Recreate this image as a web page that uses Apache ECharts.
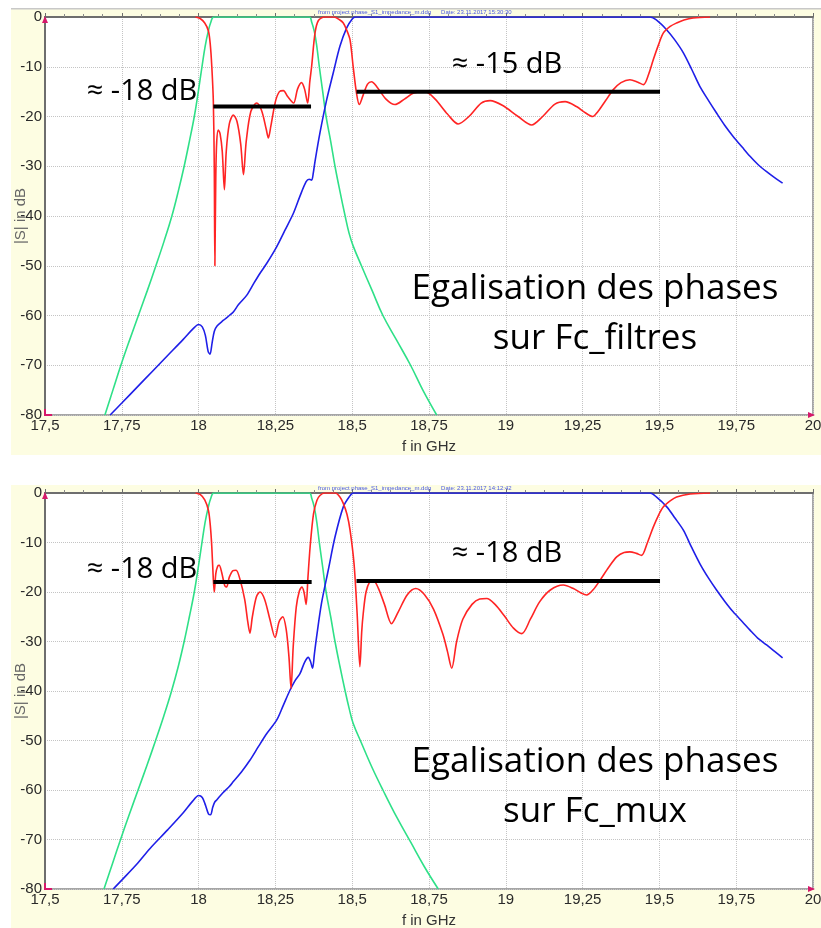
<!DOCTYPE html>
<html><head><meta charset="utf-8">
<script src="https://cdn.jsdelivr.net/npm/echarts@6/dist/echarts.min.js"></script>
<style>html,body{margin:0;padding:0;background:#fff}#c{width:821px;height:928px}</style>
</head><body><div id="c"></div>
<script>
// ---------- data ----------
const xTicks = [17.5, 17.75, 18, 18.25, 18.5, 18.75, 19, 19.25, 19.5, 19.75, 20];
const yTicks = [0, -10, -20, -30, -40, -50, -60, -70, -80];

const greenTop = [[17.695,-80],[17.721,-75],[17.747,-70],[17.775,-65],[17.804,-60],[17.833,-55],[17.861,-50],[17.888,-45],[17.913,-40],[17.934,-35],[17.953,-30],[17.97,-25],[17.986,-20],[17.999,-15],[18.011,-10],[18.021,-6],[18.031,-3],[18.04,-1],[18.05,0],[18.36,0],[18.368,-1],[18.377,-3],[18.385,-6],[18.393,-10],[18.404,-15],[18.415,-20],[18.43,-25],[18.444,-30],[18.46,-35],[18.477,-40],[18.49,-43.5],[18.503,-46],[18.53,-50],[18.565,-55],[18.6,-60],[18.645,-65],[18.69,-70],[18.73,-75],[18.775,-80]];
const blueTop = [[17.712,-80],[17.75,-77.6],[17.8,-74.4],[17.85,-71.2],[17.9,-68],[17.95,-64.8],[17.98,-62.8],[18.0,-61.8],[18.012,-62.3],[18.022,-64],[18.031,-67.2],[18.037,-67.8],[18.044,-65.5],[18.051,-63.2],[18.06,-62.1],[18.08,-61],[18.1,-60],[18.113,-59.3],[18.13,-57.8],[18.157,-55.9],[18.18,-53.5],[18.2,-51.5],[18.222,-49.5],[18.254,-46.2],[18.28,-43],[18.309,-39.4],[18.33,-36],[18.35,-33.1],[18.36,-32.6],[18.368,-32.8],[18.373,-31.5],[18.379,-29],[18.395,-23.3],[18.417,-16.6],[18.438,-11.3],[18.46,-5.9],[18.482,-2.2],[18.5,-0.4],[18.51,0],[19.47,0],[19.49,-0.6],[19.524,-2.6],[19.55,-4.6],[19.578,-7.2],[19.605,-10.5],[19.632,-14],[19.66,-16.8],[19.686,-19.3],[19.713,-21.8],[19.74,-24],[19.77,-26.2],[19.795,-28],[19.82,-29.6],[19.849,-31.1],[19.875,-32.3],[19.901,-33.4]];
const redTop = [[17.99,0],[18.005,-0.3],[18.02,-1.2],[18.032,-2.8],[18.038,-5.5],[18.043,-10],[18.048,-17],[18.051,-30],[18.053,-50],[18.056,-32],[18.059,-25],[18.064,-22.7],[18.07,-23.5],[18.077,-27],[18.084,-34.7],[18.09,-27],[18.1,-21.5],[18.113,-19.7],[18.125,-21],[18.137,-25.5],[18.146,-31.7],[18.155,-25],[18.17,-19],[18.189,-17.3],[18.205,-18.8],[18.22,-22.5],[18.227,-24.3],[18.235,-22],[18.25,-17],[18.263,-15],[18.276,-14.8],[18.29,-16],[18.309,-17.3],[18.322,-14.5],[18.335,-13.2],[18.345,-14.5],[18.355,-17.3],[18.362,-13],[18.368,-9.9],[18.379,-3.2],[18.39,-0.7],[18.41,0],[18.44,0],[18.46,-0.6],[18.471,-1.2],[18.482,-2.6],[18.493,-4.6],[18.503,-9.9],[18.514,-15.3],[18.523,-17.6],[18.535,-15.8],[18.55,-13.5],[18.563,-13],[18.58,-14],[18.61,-16.5],[18.639,-17.6],[18.67,-16.5],[18.7,-15.3],[18.737,-15],[18.77,-16.5],[18.81,-19.5],[18.845,-21.5],[18.88,-20],[18.92,-17.3],[18.949,-16.8],[18.99,-17.8],[19.04,-20],[19.084,-21.7],[19.12,-20],[19.16,-17.5],[19.193,-17],[19.23,-18],[19.26,-19.3],[19.283,-20],[19.3,-19],[19.325,-16.8],[19.35,-14.6],[19.375,-13.2],[19.404,-12.6],[19.43,-13.1],[19.448,-13.6],[19.465,-11.5],[19.48,-8.6],[19.497,-5.6],[19.513,-3.2],[19.535,-1.9],[19.556,-1.2],[19.58,-0.6],[19.61,-0.2],[19.665,0]];
const refTopA = [[18.048,-18],[18.366,-18]];
const refTopB = [[18.514,-15],[19.502,-15]];

const greenBot = [[17.692,-80],[17.719,-75],[17.746,-70],[17.774,-65],[17.803,-60],[17.832,-55],[17.86,-50],[17.887,-45],[17.912,-40],[17.934,-35],[17.953,-30],[17.97,-25],[17.986,-20],[17.999,-15],[18.011,-10],[18.021,-6],[18.031,-3],[18.04,-1],[18.05,0],[18.36,0],[18.368,-1],[18.377,-3],[18.385,-6],[18.393,-10],[18.404,-15],[18.415,-20],[18.43,-25],[18.444,-30],[18.46,-35],[18.477,-40],[18.49,-43.5],[18.503,-46.5],[18.53,-50.5],[18.565,-55.5],[18.6,-60],[18.645,-65.5],[18.69,-70.5],[18.735,-75.5],[18.78,-80]];
const blueBot = [[17.722,-80],[17.75,-78.2],[17.8,-74.9],[17.842,-71.8],[17.9,-68],[17.95,-64.6],[17.98,-62.3],[18.0,-61.1],[18.012,-61.5],[18.022,-63],[18.032,-64.8],[18.039,-65],[18.046,-63.5],[18.052,-62.5],[18.059,-62],[18.08,-60.5],[18.1,-59.3],[18.113,-58.3],[18.14,-56.3],[18.167,-54],[18.195,-51.2],[18.222,-48.6],[18.254,-45.9],[18.275,-43],[18.297,-39.9],[18.315,-37.8],[18.33,-36.5],[18.345,-34.2],[18.357,-33.2],[18.364,-34],[18.371,-35.4],[18.377,-32.5],[18.384,-29.1],[18.4,-22.3],[18.422,-15.6],[18.444,-8.9],[18.471,-2.8],[18.49,-0.8],[18.504,0],[19.47,0],[19.49,-0.8],[19.524,-2.8],[19.55,-5],[19.578,-7.5],[19.605,-11],[19.632,-14.3],[19.66,-17.2],[19.686,-19.6],[19.713,-21.9],[19.74,-24],[19.77,-26],[19.795,-27.7],[19.82,-29.3],[19.849,-30.7],[19.875,-32],[19.901,-33.3]];
const redBot = [[17.99,0],[18.005,-0.3],[18.02,-1.4],[18.032,-3.5],[18.038,-6.5],[18.043,-10.9],[18.048,-17.6],[18.051,-20],[18.056,-16.3],[18.062,-14.8],[18.067,-14.6],[18.075,-16],[18.085,-18.7],[18.091,-19],[18.1,-17],[18.112,-15.7],[18.122,-15.6],[18.135,-17.5],[18.15,-21.5],[18.16,-26],[18.167,-28.3],[18.175,-25],[18.188,-21],[18.2,-20],[18.215,-21.5],[18.232,-25.5],[18.249,-29.2],[18.262,-26],[18.274,-25],[18.285,-27.5],[18.294,-33],[18.301,-39.5],[18.308,-31],[18.318,-23],[18.328,-19.8],[18.336,-19],[18.343,-20],[18.35,-22.5],[18.356,-17],[18.363,-10.9],[18.374,-4.2],[18.385,-1.5],[18.395,-0.5],[18.41,0],[18.445,0],[18.46,-0.8],[18.471,-2.1],[18.483,-4.3],[18.493,-7.5],[18.506,-14.3],[18.516,-24.3],[18.525,-35.1],[18.531,-28],[18.536,-24.3],[18.545,-20],[18.558,-17.8],[18.568,-17.6],[18.585,-19.2],[18.605,-22.5],[18.628,-26.4],[18.65,-24],[18.68,-20.5],[18.707,-19.3],[18.735,-20.5],[18.765,-23.5],[18.795,-28.5],[18.81,-32],[18.824,-35.4],[18.84,-30],[18.86,-25.5],[18.89,-22.5],[18.915,-21.4],[18.938,-21.3],[18.965,-22.5],[18.995,-24.8],[19.025,-27.3],[19.052,-28.4],[19.08,-25.5],[19.11,-22],[19.145,-19.6],[19.187,-18.6],[19.22,-19.3],[19.245,-20.2],[19.263,-20.6],[19.285,-19.5],[19.307,-17.6],[19.335,-15],[19.361,-12.9],[19.385,-12],[19.404,-11.9],[19.425,-12.2],[19.442,-12.6],[19.46,-10.2],[19.48,-6.9],[19.497,-4.5],[19.513,-2.8],[19.535,-1.6],[19.556,-0.8],[19.6,-0.2],[19.665,0]];
const refBotA = [[18.048,-18],[18.368,-18]];
const refBotB = [[18.514,-17.8],[19.502,-17.8]];

const annTop = ['≈ -18 dB', '≈ -15 dB', 'Egalisation des phases', 'sur Fc_filtres'];
const annBot = ['≈ -18 dB', '≈ -18 dB', 'Egalisation des phases', 'sur Fc_mux'];
const xName = 'f in GHz', yName = '|S| in dB';
const headerTop = 'from project phase_S1_impedance_m.ddg      Date: 23.11.2017 15:30:30';
const headerBot = 'from project phase_S1_impedance_m.ddg      Date: 23.11.2017 14:12:42';

// ---------- chart ----------
const GREEN = '#2fe088', BLUE = '#1f1fe8', RED = '#ff2424';
const fmt = v => String(Math.round(v * 100) / 100).replace('.', ',');
const grids = [
  {left: 45, top: 17, width: 768, height: 398},
  {left: 45, top: 493, width: 768, height: 396}
];
function xAx(i) {
  return {
    type: 'value', gridIndex: i, min: 17.5, max: 20, interval: 0.25,
    name: xName, nameLocation: 'middle', nameGap: 24, nameMoveOverlap: false,
    nameTextStyle: {fontFamily: 'Liberation Sans', fontSize: 15, color: '#333'},
    axisLine: {show: true, lineStyle: {color: '#6e6e6e', width: 2}},
    axisTick: {show: true, inside: true, length: 4, lineStyle: {color: '#6e6e6e'}},
    minorTick: {show: true, splitNumber: 4, length: 3, lineStyle: {color: '#8a8a8a'}},
    axisLabel: {formatter: fmt, fontFamily: 'Liberation Sans', fontSize: 15, color: '#2a2a2a', margin: 3},
    splitLine: {show: true, lineStyle: {color: '#c4c4c4', type: 'dotted', width: 1}}
  };
}
function yAx(i) {
  return {
    type: 'value', gridIndex: i, min: -80, max: 0, interval: 10,
    name: yName, nameLocation: 'middle', nameGap: 17, nameMoveOverlap: false,
    nameTextStyle: {fontFamily: 'Liberation Sans', fontSize: 15, color: '#666'},
    axisLine: {show: true, lineStyle: {color: '#6e6e6e', width: 2}},
    axisTick: {show: false},
    axisLabel: {fontFamily: 'Liberation Sans', fontSize: 15, color: '#2a2a2a', margin: 3},
    splitLine: {show: true, lineStyle: {color: '#c4c4c4', type: 'dotted', width: 1}}
  };
}
function ln(data, color, i, w, smooth) {
  return {type: 'line', xAxisIndex: i, yAxisIndex: i, data: data, showSymbol: false, symbol: 'none',
    smooth: smooth, lineStyle: {color: color, width: w}, clip: true, silent: true, z: 3};
}
const annFont = '"Open Sans", sans-serif';
function txt(s, x, y, size, align) {
  return {type: 'text', x: x, y: y, z: 50,
    style: {text: s, fontFamily: annFont, fontSize: size, fill: '#000', align: align || 'center', verticalAlign: 'middle'}};
}
function marks(top, bottom) {
  const c = '#d6186a';
  return [
    {type: 'polygon', z: 40, shape: {points: [[45, top - 1], [42, top + 6], [48, top + 6]]}, style: {fill: c}},
    {type: 'polyline', z: 40, shape: {points: [[45, bottom - 6], [45, bottom], [52, bottom]]}, style: {stroke: c, lineWidth: 2, fill: null}},
    {type: 'polygon', z: 40, shape: {points: [[815, bottom], [808, bottom - 3], [808, bottom + 3]]}, style: {fill: c}}
  ];
}
const chart = echarts.init(document.getElementById('c'), null, {renderer: 'canvas'});
chart.setOption({
  backgroundColor: '#ffffff',
  animation: false,
  grid: grids.map(g => Object.assign({show: true, backgroundColor: '#ffffff', borderColor: '#a6a6a6', borderWidth: 2, containLabel: false, outerBoundsMode: 'none'}, g)),
  xAxis: [xAx(0), xAx(1)],
  yAxis: [yAx(0), yAx(1)],
  series: [
    ln(greenTop, GREEN, 0, 1.6, 0.4), ln(blueTop, BLUE, 0, 1.6, 0.3), ln(redTop, RED, 0, 1.6, 0.3),
    ln(refTopA, '#000', 0, 4, false), ln(refTopB, '#000', 0, 4, false),
    ln(greenBot, GREEN, 1, 1.6, 0.4), ln(blueBot, BLUE, 1, 1.6, 0.3), ln(redBot, RED, 1, 1.6, 0.3),
    ln(refBotA, '#000', 1, 4, false), ln(refBotB, '#000', 1, 4, false)
  ],
  graphic: [
    {type: 'rect', z: -100, shape: {x: 11, y: 8, width: 810, height: 447}, style: {fill: '#fdfde2'}},
    {type: 'rect', z: -100, shape: {x: 11, y: 485, width: 810, height: 443}, style: {fill: '#fdfde2'}},
    {type: 'rect', z: -99, shape: {x: 11, y: 8, width: 810, height: 1.5}, style: {fill: '#c8c8c8'}},
    {type: 'text', x: 318, y: 12, z: 40, style: {text: headerTop, fontFamily: 'Liberation Sans', fontSize: 6, fill: '#4a5ae0', verticalAlign: 'middle'}},
    {type: 'text', x: 318, y: 488, z: 40, style: {text: headerBot, fontFamily: 'Liberation Sans', fontSize: 6, fill: '#4a5ae0', verticalAlign: 'middle'}},
    txt(annTop[0], 142, 92, 29), txt(annTop[1], 507, 65, 29),
    txt(annTop[2], 595, 289, 35), txt(annTop[3], 595, 339, 35),
    txt(annBot[0], 142, 570, 29), txt(annBot[1], 507, 554, 29),
    txt(annBot[2], 595, 762, 35), txt(annBot[3], 595, 812, 35)
  ].concat(marks(17, 415), marks(493, 889))
});
</script></body></html>
